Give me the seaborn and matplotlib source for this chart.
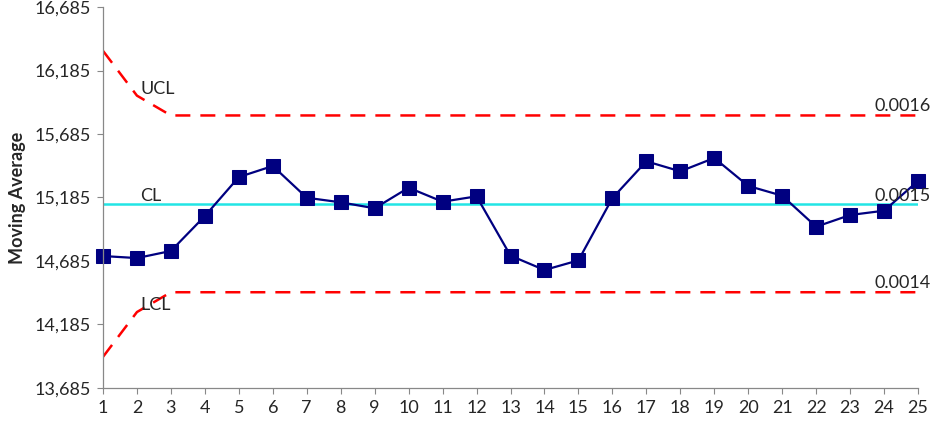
import numpy as np
import pandas as pd
import matplotlib
matplotlib.use("Agg")
import matplotlib.pyplot as plt
import seaborn as sns

# chart values
samples = list(range(1, 26))
moving_avg = [14724, 14708, 14764, 15039, 15346, 15433, 15183, 15147, 15100, 15262,
              15152, 15194, 14727, 14614, 14690, 15180, 15470, 15391, 15496, 15276,
              15199, 14955, 15047, 15081, 15315]
ucl = [16340, 15987] + [15831] * 23
lcl = [13930, 14283] + [14439] * 23
cl = [15135] * 25
y_ticks = [13685, 14185, 14685, 15185, 15685, 16185, 16685]
right_labels = ["0.0016", "0.0015", "0.0014"]

df = pd.DataFrame({"sample": samples, "avg": moving_avg, "ucl": ucl, "lcl": lcl, "cl": cl})

sns.set_style("white")
plt.rcParams["font.family"] = ["Lato", "DejaVu Sans"]

fig = plt.figure(figsize=(9.32, 4.22), dpi=100)
ax = fig.add_axes([0.1105, 0.0806, 0.8745, 0.9028])

sns.lineplot(data=df, x="sample", y="ucl", ax=ax, color="#FF0000", lw=1.8,
             linestyle=(0, (6, 4)))
sns.lineplot(data=df, x="sample", y="lcl", ax=ax, color="#FF0000", lw=1.8,
             linestyle=(0, (6, 4)))
sns.lineplot(data=df, x="sample", y="cl", ax=ax, color="#22E5E5", lw=1.8)
sns.lineplot(data=df, x="sample", y="avg", ax=ax, color="#000080", lw=1.6,
             marker="s", markersize=10, markeredgecolor="#000080", clip_on=False)

ax.set_xlim(1, 25)
ax.set_ylim(13685, 16685)
ax.set_xticks(samples)
ax.set_yticks(y_ticks)
ax.set_yticklabels([f"{v:,}" for v in y_ticks])
ax.tick_params(axis="both", labelsize=13, length=4, width=0.8, color="#888888",
               direction="out", left=True, bottom=True, pad=5)
ax.set_xlabel("")
ax.set_ylabel("Moving Average", fontsize=13, fontweight="bold", labelpad=6)

for side in ["top", "right"]:
    ax.spines[side].set_visible(False)
for side in ["left", "bottom"]:
    ax.spines[side].set_color("#888888")
    ax.spines[side].set_linewidth(0.9)

# line labels
ax.text(2.1, ucl[1] + 55, "UCL", fontsize=13, va="center")
ax.text(2.1, cl[0] + 60, "CL", fontsize=13, va="center")
ax.text(2.1, lcl[1] + 55, "LCL", fontsize=13, va="center")
ax.text(23.72, ucl[-1] + 75, right_labels[0], fontsize=13, va="center", clip_on=False)
ax.text(23.72, cl[-1] + 65, right_labels[1], fontsize=13, va="center", clip_on=False)
ax.text(23.72, lcl[-1] + 70, right_labels[2], fontsize=13, va="center", clip_on=False)

fig.savefig("out.png", dpi=100)
